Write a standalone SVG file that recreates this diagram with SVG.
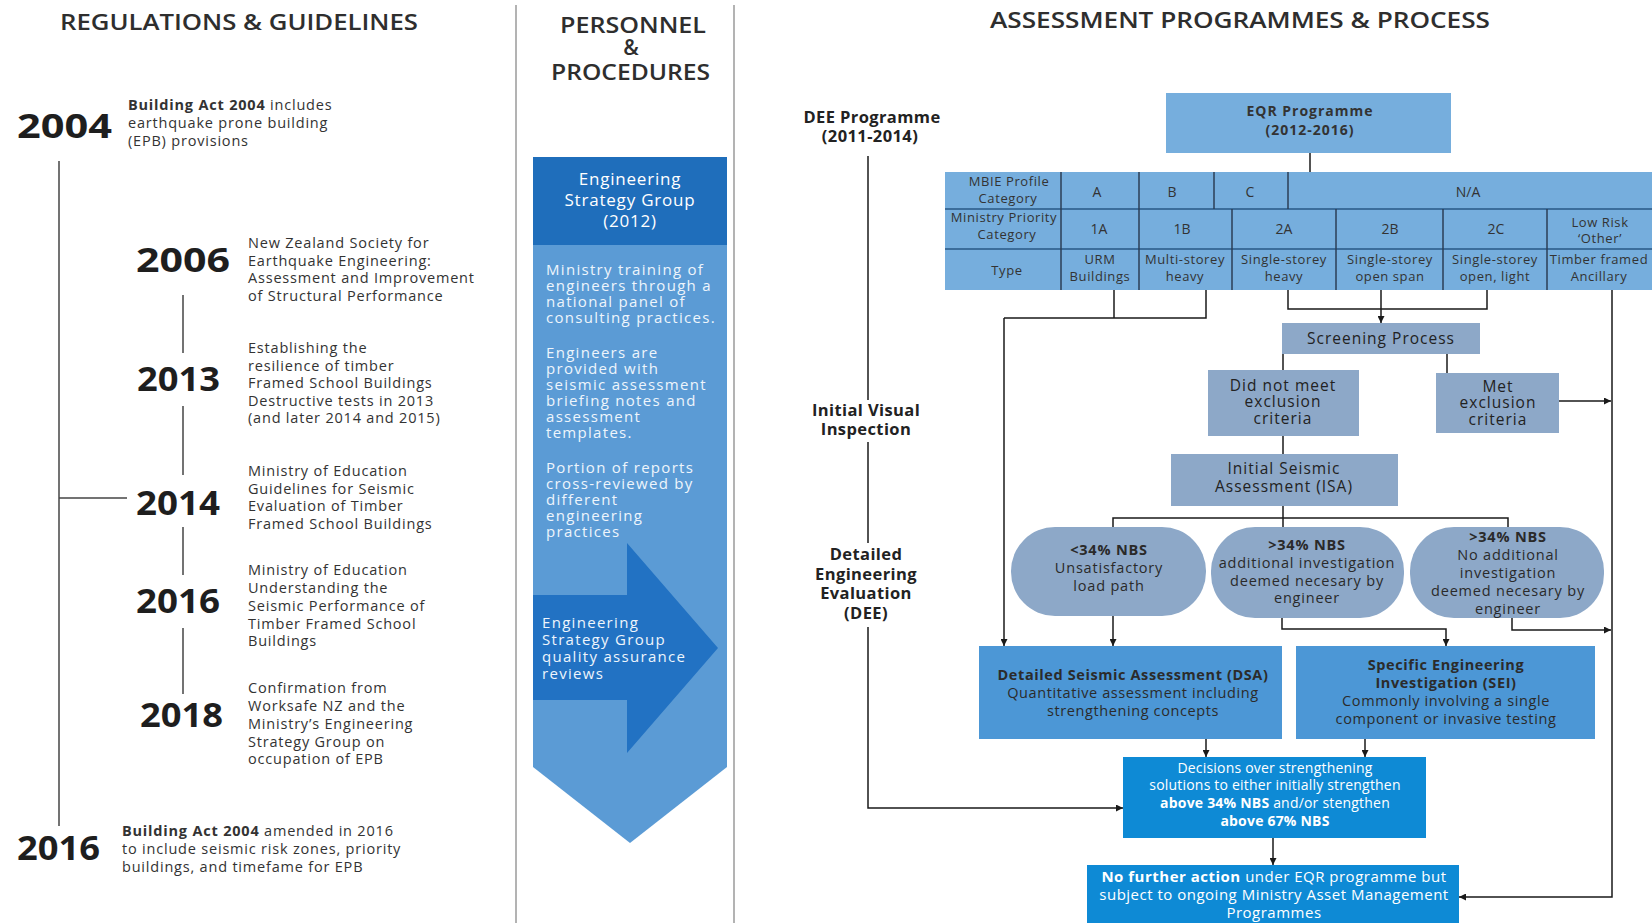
<svg xmlns="http://www.w3.org/2000/svg" width="1652" height="923" viewBox="0 0 1652 923">
<defs>
<style>
text { font-family: 'Open Sans', 'Liberation Sans', sans-serif; }
.title { font-size: 21px; font-weight: 600; fill: #2e2e2e; }
.yr { font-size: 34px; font-weight: 700; fill: #1e1e1e; }
.desc { font-size: 14.5px; fill: #333; letter-spacing: 0.8px; }
.tl { stroke: #444; stroke-width: 1.5; fill: none; }
.sep { stroke: #9a9a9a; stroke-width: 1.5; }
.mid { font-size: 15px; fill: #eef5fc; letter-spacing: 1.3px; }
.hdr { font-size: 17px; fill: #ffffff; text-anchor: middle; letter-spacing: 0.8px; }
.lbl { font-size: 16.5px; font-weight: 700; fill: #222; text-anchor: middle; letter-spacing: 0.4px; }
.cell { fill: #76AEDD; }
.tc { font-size: 13px; fill: #333; text-anchor: middle; letter-spacing: 0.6px; }
.tv { font-size: 14px; fill: #333; text-anchor: middle; }
.vl { stroke: #2c3e55; stroke-width: 1.5; }
.hl { stroke: #3b6d9b; stroke-width: 2; }
.gb { fill: #8DA8C8; }
.bt { font-size: 15.5px; fill: #222; text-anchor: middle; letter-spacing: 1px; }
.ov { font-size: 14.5px; fill: #2a2a2a; text-anchor: middle; letter-spacing: 0.8px; }
.mb { fill: #4C97D6; }
.mt { font-size: 14.5px; fill: #2b2b2b; text-anchor: middle; letter-spacing: 0.6px; }
.db { fill: #0E8AD5; }
.wt { font-size: 14px; fill: #ffffff; text-anchor: middle; letter-spacing: 0.2px; }
.wt2 { font-size: 15px; fill: #ffffff; text-anchor: middle; letter-spacing: 0.5px; }
.conn path { fill: none; stroke: #1a1a1a; stroke-width: 1.5; }
</style>
<marker id="ah" viewBox="0 0 10 10" refX="10" refY="5" markerWidth="7" markerHeight="7" orient="auto" markerUnits="userSpaceOnUse">
<path d="M0,0 L10,5 L0,10 z" fill="#1a1a1a"/>
</marker>
</defs>
<rect width="1652" height="923" fill="#ffffff"/>

<!-- column separators -->
<g id="separators">
<line class="sep" x1="516" y1="5" x2="516" y2="923"/>
<line class="sep" x1="734" y1="5" x2="734" y2="923"/>
</g>

<!-- titles -->
<g id="titles">
<text class="title" x="60" y="30" textLength="358" lengthAdjust="spacingAndGlyphs">REGULATIONS &amp; GUIDELINES</text>
<text class="title" x="560" y="33" textLength="146" lengthAdjust="spacingAndGlyphs">PERSONNEL</text>
<text class="title" x="631" y="55" text-anchor="middle">&amp;</text>
<text class="title" x="551" y="80" textLength="159" lengthAdjust="spacingAndGlyphs">PROCEDURES</text>
<text class="title" x="990" y="28" textLength="500" lengthAdjust="spacingAndGlyphs">ASSESSMENT PROGRAMMES &amp; PROCESS</text>
</g>

<!-- timeline -->
<g id="timeline">
<line class="tl" x1="59" y1="161" x2="59" y2="826"/>
<line class="tl" x1="59" y1="498" x2="127" y2="498"/>
<line class="tl" x1="183" y1="295" x2="183" y2="353"/>
<line class="tl" x1="183" y1="406" x2="183" y2="475"/>
<line class="tl" x1="183" y1="527" x2="183" y2="575"/>
<line class="tl" x1="183" y1="628" x2="183" y2="694"/>
</g>

<g id="y2004">
<text class="yr" x="17" y="138" textLength="95" lengthAdjust="spacingAndGlyphs">2004</text>
<text class="desc" x="128" y="110" font-size="13.5px" letter-spacing="0.9px"><tspan font-weight="700">Building Act 2004</tspan> includes</text>
<text class="desc" x="128" y="128" font-size="13.5px" letter-spacing="0.9px">earthquake prone building</text>
<text class="desc" x="128" y="146" font-size="13.5px" letter-spacing="0.9px">(EPB) provisions</text>
</g>

<g id="y2006">
<text class="yr" x="136" y="272" textLength="94" lengthAdjust="spacingAndGlyphs">2006</text>
<text class="desc" x="248" y="248">New Zealand Society for</text>
<text class="desc" x="248" y="265.5">Earthquake Engineering:</text>
<text class="desc" x="248" y="283">Assessment and Improvement</text>
<text class="desc" x="248" y="300.5">of Structural Performance</text>
</g>

<g id="y2013">
<text class="yr" x="137" y="391" textLength="83" lengthAdjust="spacingAndGlyphs">2013</text>
<text class="desc" x="248" y="353">Establishing the</text>
<text class="desc" x="248" y="370.5">resilience of timber</text>
<text class="desc" x="248" y="388">Framed School Buildings</text>
<text class="desc" x="248" y="405.5">Destructive tests in 2013</text>
<text class="desc" x="248" y="423">(and later 2014 and 2015)</text>
</g>

<g id="y2014">
<text class="yr" x="136" y="515" textLength="84" lengthAdjust="spacingAndGlyphs">2014</text>
<text class="desc" x="248" y="476">Ministry of Education</text>
<text class="desc" x="248" y="493.5">Guidelines for Seismic</text>
<text class="desc" x="248" y="511">Evaluation of Timber</text>
<text class="desc" x="248" y="528.5">Framed School Buildings</text>
</g>

<g id="y2016a">
<text class="yr" x="136" y="613" textLength="84" lengthAdjust="spacingAndGlyphs">2016</text>
<text class="desc" x="248" y="575">Ministry of Education</text>
<text class="desc" x="248" y="593">Understanding the</text>
<text class="desc" x="248" y="611">Seismic Performance of</text>
<text class="desc" x="248" y="628.5">Timber Framed School</text>
<text class="desc" x="248" y="646">Buildings</text>
</g>

<g id="y2018">
<text class="yr" x="140" y="727" textLength="83" lengthAdjust="spacingAndGlyphs">2018</text>
<text class="desc" x="248" y="693">Confirmation from</text>
<text class="desc" x="248" y="711">Worksafe NZ and the</text>
<text class="desc" x="248" y="729">Ministry’s Engineering</text>
<text class="desc" x="248" y="746.5">Strategy Group on</text>
<text class="desc" x="248" y="764">occupation of EPB</text>
</g>

<g id="y2016b">
<text class="yr" x="17" y="860" textLength="83" lengthAdjust="spacingAndGlyphs">2016</text>
<text class="desc" x="122" y="836" font-size="13.5px" letter-spacing="0.5px"><tspan font-weight="700">Building Act 2004</tspan> amended in 2016</text>
<text class="desc" x="122" y="854" font-size="13.5px" letter-spacing="0.5px">to include seismic risk zones, priority</text>
<text class="desc" x="122" y="872" font-size="13.5px" letter-spacing="0.5px">buildings, and timefame for EPB</text>
</g>

<!-- middle column -->
<g id="esg">
<polygon points="533,245 727,245 727,767 630,843 533,767" fill="#5B9BD5"/>
<rect x="533" y="157" width="194" height="88" fill="#1F6EBB"/>
<text class="hdr" x="630" y="185">Engineering</text>
<text class="hdr" x="630" y="206">Strategy Group</text>
<text class="hdr" x="630" y="227">(2012)</text>
<text class="mid" x="546" y="275">Ministry training of</text>
<text class="mid" x="546" y="291">engineers through a</text>
<text class="mid" x="546" y="307">national panel of</text>
<text class="mid" x="546" y="323">consulting practices.</text>
<text class="mid" x="546" y="358">Engineers are</text>
<text class="mid" x="546" y="374">provided with</text>
<text class="mid" x="546" y="390">seismic assessment</text>
<text class="mid" x="546" y="406">briefing notes and</text>
<text class="mid" x="546" y="422">assessment</text>
<text class="mid" x="546" y="438">templates.</text>
<text class="mid" x="546" y="473">Portion of reports</text>
<text class="mid" x="546" y="489">cross-reviewed by</text>
<text class="mid" x="546" y="505">different</text>
<text class="mid" x="546" y="521">engineering</text>
<text class="mid" x="546" y="537">practices</text>
</g>
<g id="qa-arrow">
<polygon points="533,595 627,595 627,543 718,648 627,753 627,700 533,700" fill="#2272C3"/>
<text class="mid" x="542" y="628">Engineering</text>
<text class="mid" x="542" y="645">Strategy Group</text>
<text class="mid" x="542" y="662">quality assurance</text>
<text class="mid" x="542" y="679">reviews</text>
</g>

<!-- right column labels -->
<g id="dee-label">
<text class="lbl" x="872" y="123">DEE Programme</text>
<text class="lbl" x="870" y="142">(2011-2014)</text>
</g>
<g id="ivi-label">
<text class="lbl" x="866" y="416">Initial Visual</text>
<text class="lbl" x="866" y="435">Inspection</text>
</g>
<g id="dee-eval-label">
<text class="lbl" x="866" y="560">Detailed</text>
<text class="lbl" x="866" y="580">Engineering</text>
<text class="lbl" x="866" y="599">Evaluation</text>
<text class="lbl" x="866" y="619">(DEE)</text>
</g>

<g id="eqr">
<rect class="cell" x="1166" y="93" width="285" height="60"/>
<text class="tv" x="1310" y="116" font-weight="700" font-size="16px" letter-spacing="1px">EQR Programme</text>
<text class="tv" x="1310" y="135" font-weight="700" font-size="16px" letter-spacing="1px">(2012-2016)</text>
</g>

<g id="category-table">
<rect class="cell" x="945" y="172" width="707" height="118"/>
<line class="hl" x1="945" y1="209" x2="1652" y2="209"/>
<line class="hl" x1="945" y1="249" x2="1652" y2="249" stroke="#555"/>
<line class="vl" x1="1061" y1="172" x2="1061" y2="290"/>
<line class="vl" x1="1139" y1="172" x2="1139" y2="290"/>
<line class="vl" x1="1214" y1="172" x2="1214" y2="209"/>
<line class="vl" x1="1288" y1="172" x2="1288" y2="209"/>
<line class="vl" x1="1232" y1="209" x2="1232" y2="290"/>
<line class="vl" x1="1336" y1="209" x2="1336" y2="290"/>
<line class="vl" x1="1443" y1="209" x2="1443" y2="290"/>
<line class="vl" x1="1547" y1="209" x2="1547" y2="290"/>
<text class="tc" x="1009" y="186">MBIE Profile</text>
<text class="tc" x="1008" y="203">Category</text>
<text class="tv" x="1097" y="197">A</text>
<text class="tv" x="1172" y="197">B</text>
<text class="tv" x="1250" y="197">C</text>
<text class="tv" x="1468" y="197">N/A</text>
<text class="tc" x="1004" y="222" letter-spacing="0.3px">Ministry Priority</text>
<text class="tc" x="1007" y="239">Category</text>
<text class="tv" x="1099" y="234">1A</text>
<text class="tv" x="1182" y="234">1B</text>
<text class="tv" x="1284" y="234">2A</text>
<text class="tv" x="1390" y="234">2B</text>
<text class="tv" x="1496" y="234">2C</text>
<text class="tc" x="1600" y="227">Low Risk</text>
<text class="tc" x="1600" y="243">‘Other’</text>
<text class="tc" x="1007" y="275">Type</text>
<text class="tc" x="1100" y="264">URM</text>
<text class="tc" x="1100" y="281">Buildings</text>
<text class="tc" x="1185" y="264">Multi-storey</text>
<text class="tc" x="1185" y="281">heavy</text>
<text class="tc" x="1284" y="264">Single-storey</text>
<text class="tc" x="1284" y="281">heavy</text>
<text class="tc" x="1390" y="264">Single-storey</text>
<text class="tc" x="1390" y="281">open span</text>
<text class="tc" x="1495" y="264">Single-storey</text>
<text class="tc" x="1495" y="281">open, light</text>
<text class="tc" x="1599" y="264" letter-spacing="0.3px">Timber framed</text>
<text class="tc" x="1599" y="281">Ancillary</text>
</g>

<g id="screening">
<rect class="gb" x="1282" y="323" width="198" height="31"/>
<text class="bt" x="1381" y="344">Screening Process</text>
</g>
<g id="not-met">
<rect class="gb" x="1208" y="370" width="151" height="66"/>
<text class="bt" x="1283" y="391">Did not meet</text>
<text class="bt" x="1283" y="407">exclusion</text>
<text class="bt" x="1283" y="424">criteria</text>
</g>
<g id="met">
<rect class="gb" x="1436" y="373" width="123" height="60"/>
<text class="bt" x="1498" y="392">Met</text>
<text class="bt" x="1498" y="408">exclusion</text>
<text class="bt" x="1498" y="425">criteria</text>
</g>
<g id="isa">
<rect class="gb" x="1171" y="454" width="227" height="52"/>
<text class="bt" x="1284" y="474">Initial Seismic</text>
<text class="bt" x="1284" y="492">Assessment (ISA)</text>
</g>

<g id="oval1">
<rect class="gb" x="1011" y="527" width="195" height="89" rx="44" ry="44"/>
<text class="ov" x="1109" y="555" font-weight="700">&lt;34% NBS</text>
<text class="ov" x="1109" y="573">Unsatisfactory</text>
<text class="ov" x="1109" y="591">load path</text>
</g>
<g id="oval2">
<rect class="gb" x="1211" y="527" width="193" height="91" rx="44" ry="44"/>
<text class="ov" x="1307" y="550" font-weight="700">&gt;34% NBS</text>
<text class="ov" x="1307" y="568">additional investigation</text>
<text class="ov" x="1307" y="586">deemed necesary by</text>
<text class="ov" x="1307" y="603">engineer</text>
</g>
<g id="oval3">
<rect class="gb" x="1410" y="527" width="194" height="91" rx="44" ry="44"/>
<text class="ov" x="1508" y="542" font-weight="700">&gt;34% NBS</text>
<text class="ov" x="1508" y="560">No additional</text>
<text class="ov" x="1508" y="578">investigation</text>
<text class="ov" x="1508" y="596">deemed necesary by</text>
<text class="ov" x="1508" y="614">engineer</text>
</g>

<g id="dsa">
<rect class="mb" x="979" y="646" width="303" height="93"/>
<text class="mt" x="1133" y="680" font-weight="700" letter-spacing="0.3px">Detailed Seismic Assessment (DSA)</text>
<text class="mt" x="1133" y="698">Quantitative assessment including</text>
<text class="mt" x="1133" y="716">strengthening concepts</text>
</g>
<g id="sei">
<rect class="mb" x="1296" y="646" width="299" height="93"/>
<text class="mt" x="1446" y="670" font-weight="700">Specific Engineering</text>
<text class="mt" x="1446" y="688" font-weight="700">Investigation (SEI)</text>
<text class="mt" x="1446" y="706">Commonly involving a single</text>
<text class="mt" x="1446" y="724">component or invasive testing</text>
</g>

<g id="decisions">
<rect class="db" x="1123" y="757" width="303" height="81"/>
<text class="wt" x="1275" y="773">Decisions over strengthening</text>
<text class="wt" x="1275" y="790">solutions to either initially strengthen</text>
<text class="wt" x="1275" y="808"><tspan font-weight="700">above 34% NBS</tspan> and/or stengthen</text>
<text class="wt" x="1275" y="826" font-weight="700">above 67% NBS</text>
</g>
<g id="no-further">
<rect class="db" x="1087" y="865" width="372" height="58"/>
<text class="wt2" x="1274" y="882"><tspan font-weight="700">No further action</tspan> under EQR programme but</text>
<text class="wt2" x="1274" y="900">subject to ongoing Ministry Asset Management</text>
<text class="wt2" x="1274" y="918">Programmes</text>
</g>

<g id="connectors" class="conn">
<path d="M1310,153 V172"/>
<path d="M1114,290 V318"/>
<path d="M1206,290 V318 H1004"/>
<path d="M1004,318 V646" marker-end="url(#ah)"/>
<path d="M1288,290 V309 H1487 V290"/>
<path d="M1381,290 V323" marker-end="url(#ah)"/>
<path d="M1283,354 V370"/>
<path d="M1447,354 V373"/>
<path d="M1559,401 H1611" marker-end="url(#ah)"/>
<path d="M1283,436 V454"/>
<path d="M1283,506 V527"/>
<path d="M1113,527 V518 H1508 V527"/>
<path d="M1113,616 V646" marker-end="url(#ah)"/>
<path d="M1282,618 V629 H1446 V646" marker-end="url(#ah)"/>
<path d="M1512,618 V630 H1611" marker-end="url(#ah)"/>
<path d="M1206,739 V757" marker-end="url(#ah)"/>
<path d="M1365,739 V757" marker-end="url(#ah)"/>
<path d="M1273,838 V865" marker-end="url(#ah)"/>
<path d="M1612,290 V897 H1459" marker-end="url(#ah)"/>
<path d="M868,156 V400"/>
<path d="M868,442 V543"/>
<path d="M868,627 V808 H1123" marker-end="url(#ah)"/>
</g>
</svg>
